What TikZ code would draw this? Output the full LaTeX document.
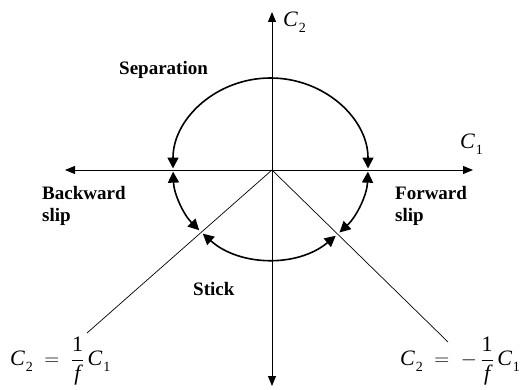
\documentclass[tikz,border=0pt]{standalone}
\usepackage{fontspec}
\setmainfont{Liberation Serif}
\usetikzlibrary{arrows.meta}
\newcommand{\Csub}[1]{\mbox{{\fontsize{22}{24}\selectfont\itshape C}\kern1pt\raisebox{-6pt}{\fontsize{14}{14}\selectfont #1}}}
\begin{document}
\begin{tikzpicture}[x=1pt,y=1pt,
  axis/.style={line width=0.9pt,-{Triangle[length=10pt,width=8pt]}},
  arcline/.style={line width=1.6pt,{Triangle[length=11pt,width=11pt]}-{Triangle[length=11pt,width=11pt]}},
  thinline/.style={line width=0.7pt},
  lbl/.style={inner sep=0pt,font=\fontsize{19}{22}\selectfont\bfseries},
  math/.style={inner sep=0pt,font=\fontsize{22}{26}\selectfont}]
\useasboundingbox (0,0) rectangle (524,389);
\coordinate (O) at (272,219);
\coordinate (Lt) at (65,219);
\coordinate (Rt) at (473,219);
\coordinate (Tp) at (272,377);
\coordinate (Bt) at (272,3);
\coordinate (LL) at (87,56);
\coordinate (RR) at (448,47);
\coordinate (E) at (270.5,220.5);
% axes
\draw[axis] (O) -- (Lt);
\draw[axis] (O) -- (Rt);
\draw[axis] (O) -- (Tp);
\draw[axis] (O) -- (Bt);
% diagonal lines
\draw[thinline] (O) -- (LL);
\draw[thinline] (O) -- (RR);
% arcs
\draw[arcline] ([shift={(E)}]180:97.5 and 90.5) arc[start angle=180,end angle=0,x radius=97.5,y radius=90.5];
\draw[arcline] ([shift={(E)}]182:97.5 and 90.5) arc[start angle=182,end angle=223,x radius=97.5,y radius=90.5];
\draw[arcline] ([shift={(E)}]226:97.5 and 90.5) arc[start angle=226,end angle=312,x radius=97.5,y radius=90.5];
\draw[arcline] ([shift={(E)}]315:97.5 and 90.5) arc[start angle=315,end angle=358,x radius=97.5,y radius=90.5];
% labels
\node[lbl,anchor=base west] (sep) at (119,314) {Separation};
\node[lbl,anchor=north west,align=left] (bw) at (42,203) {Backward\\slip};
\node[lbl,anchor=north west,align=left] (fw) at (395,203) {Forward\\slip};
\node[lbl,anchor=base west] (st) at (193,94) {Stick};
\node[math,anchor=base west] (c2) at (283,362) {\Csub{2}};
\node[math,anchor=base west] (c1) at (460,241) {\Csub{1}};
\node[math,anchor=west] (f1) at (10,28) {$\displaystyle\Csub{2}\;=\;\frac{\mbox{1}}{\mbox{\itshape f}}\,\Csub{1}$};
\node[math,anchor=west] (f2) at (400,28) {$\displaystyle\Csub{2}\;=\;-\,\frac{\mbox{1}}{\mbox{\itshape f}}\,\Csub{1}$};
\end{tikzpicture}
\end{document}
